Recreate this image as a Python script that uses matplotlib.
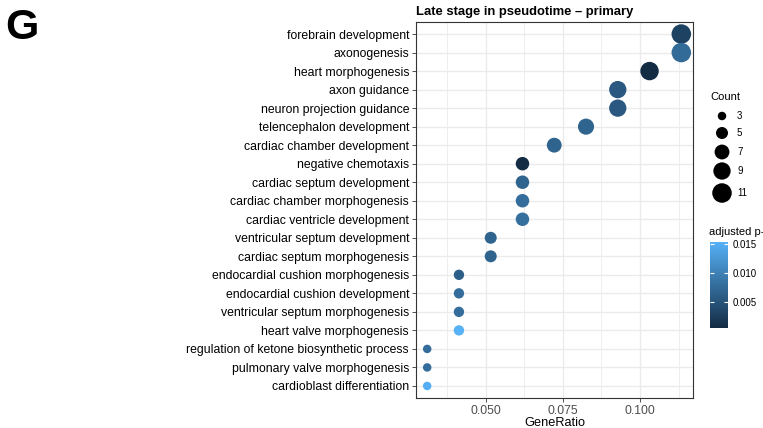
import numpy as np
import matplotlib
matplotlib.use("Agg")
import matplotlib.pyplot as plt
from matplotlib.colors import LinearSegmentedColormap, Normalize

plt.rcParams['font.family'] = ['Liberation Sans', 'DejaVu Sans']

terms = [
    "forebrain development", "axonogenesis", "heart morphogenesis", "axon guidance",
    "neuron projection guidance", "telencephalon development", "cardiac chamber development",
    "negative chemotaxis", "cardiac septum development", "cardiac chamber morphogenesis",
    "cardiac ventricle development", "ventricular septum development",
    "cardiac septum morphogenesis", "endocardial cushion morphogenesis",
    "endocardial cushion development", "ventricular septum morphogenesis",
    "heart valve morphogenesis", "regulation of ketone biosynthetic process",
    "pulmonary valve morphogenesis", "cardioblast differentiation",
]
counts = [11, 11, 10, 9, 9, 8, 7, 6, 6, 6, 6, 5, 5, 4, 4, 4, 4, 3, 3, 3]
gene_ratio = [11/97, 11/97, 10/97, 9/97, 9/97, 8/97, 7/97, 6/97, 6/97, 6/97, 6/97,
              5/97, 5/97, 4/97, 4/97, 4/97, 4/97, 3/97, 3/97, 3/97]
p_adjust = [0.0030, 0.0075, 0.0006, 0.0055, 0.0055, 0.0068, 0.0068, 0.0005, 0.0068,
            0.0078, 0.0080, 0.0068, 0.0068, 0.0062, 0.0078, 0.0078, 0.0153, 0.0078,
            0.0078, 0.0150]
legend_counts = [3, 5, 7, 9, 11]
x_ticks = [0.050, 0.075, 0.100]
cbar_ticks = [0.005, 0.010, 0.015]

cmap = LinearSegmentedColormap.from_list("gg", ["#132B43", "#56B1F7"])
norm = Normalize(vmin=min(p_adjust), vmax=max(p_adjust))

def diam_px(c):
    dmin, dmax = 8.5, 19.5
    lo, hi = np.sqrt(3), np.sqrt(11)
    return dmin + (dmax - dmin) * (np.sqrt(c) - lo) / (hi - lo)

def diam_pt(c):
    return diam_px(c) * 0.72

W, H = 763, 428
fig = plt.figure(figsize=(W/100, H/100), dpi=100)
ax = fig.add_axes([416/W, 1-398/H, (693-416)/W, (398-22)/H])

n = len(terms)
ypos = np.arange(n)[::-1]
sizes = [diam_pt(c)**2 for c in counts]
ax.scatter(gene_ratio, ypos, s=sizes, c=p_adjust, cmap=cmap, norm=norm,
           linewidths=0, zorder=3)

ax.set_xlim(0.0273, 0.1172)
ax.set_ylim(-0.65, n-1+0.65)
ax.set_yticks(ypos)
ax.set_yticklabels(terms, fontsize=8.8, color="black")
ax.set_xticks(x_ticks)
ax.set_xticklabels(["%.3f" % t for t in x_ticks], fontsize=8.8, color="#4D4D4D")
ax.set_xticks([0.0375, 0.0625, 0.0875, 0.1125], minor=True)
ax.tick_params(axis='both', which='major', length=3, color="#333333", width=0.6, pad=2)
ax.tick_params(axis='x', which='minor', length=0)
ax.grid(True, which='major', color="#EBEBEB", linewidth=1.0, zorder=0)
ax.grid(True, which='minor', axis='x', color="#EBEBEB", linewidth=0.6, zorder=0)
ax.set_axisbelow(True)
for sp in ax.spines.values():
    sp.set_color("#333333")
    sp.set_linewidth(0.8)
ax.set_xlabel("GeneRatio", fontsize=9.2, labelpad=0)
ax.set_title("Late stage in pseudotime \u2013 primary", fontsize=9.4, fontweight='bold',
             loc='left', pad=5)

fig.text(5/W, 1-8/H, "G", fontsize=31, fontweight='bold', va='top', ha='left')

# size legend (own axes in pixel units)
lax = fig.add_axes([700/W, 1-210/H, 63/W, 125/H])
lax.set_xlim(700, 763)
lax.set_ylim(210, 85)
lax.axis('off')
key_y = [116, 133, 152, 171, 193]
lax.scatter([722]*len(legend_counts), key_y, s=[diam_pt(c)**2 for c in legend_counts],
            color='black', linewidths=0, clip_on=False)
for c, yk in zip(legend_counts, key_y):
    lax.text(737, yk, str(c), fontsize=7, va='center', ha='left')
lax.text(710, 97, "Count", fontsize=8, va='center', ha='left')

# colorbar
cax = fig.add_axes([710/W, 1-328/H, 18/W, (328-242)/H])
sm = plt.cm.ScalarMappable(cmap=cmap, norm=norm)
cb = fig.colorbar(sm, cax=cax, ticks=cbar_ticks)
cb.outline.set_visible(False)
cax.tick_params(direction='in', color='white', length=3, width=0.8,
                left=True, right=True, labelsize=7, pad=3)
cax.set_yticklabels(["%.3f" % t for t in cbar_ticks])
fig.text(709/W, 1-232/H, "adjusted p-value", fontsize=8, va='center', ha='left')

fig.savefig("out.png", dpi=100)
